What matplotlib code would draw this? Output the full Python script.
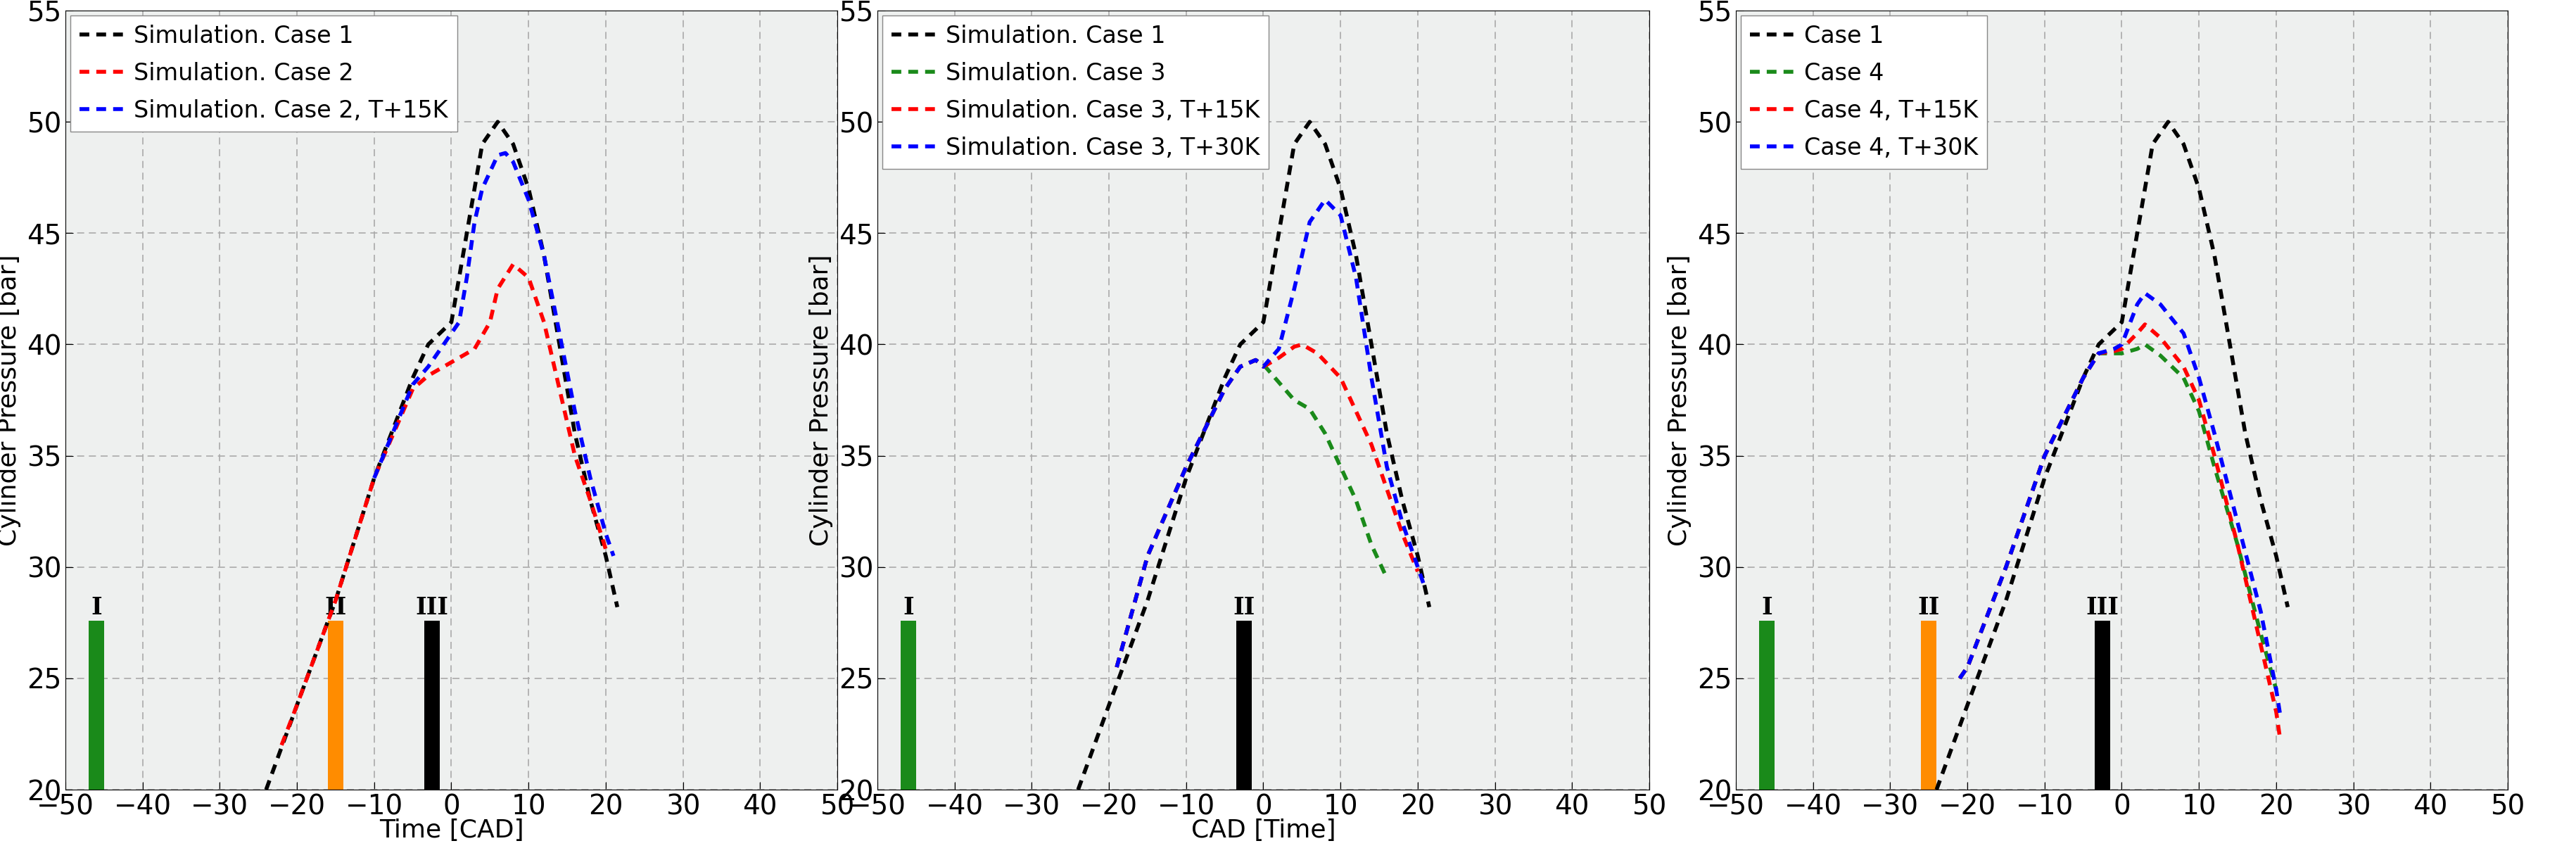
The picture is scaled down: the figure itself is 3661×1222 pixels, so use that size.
import matplotlib
matplotlib.use("Agg")
import matplotlib.pyplot as plt
import numpy as np

c1_x = [-24,-20,-15,-10,-5,-3,0,1,2,3,4,6,8,10,12,14,16,18,20,21.5]
c1_y = [20,23.8,28.5,34,38.5,40,41,43,45,47,49,50,49,47,44,40,36,33,30.5,28.2]

p1_c2_x = [-22,-20,-15,-10,-5,-3,0,3,5,6,8,10,12,14,16,18,20]
p1_c2_y = [22,23.8,28.5,34,38,38.6,39.2,39.8,41,42.5,43.6,43,41,38,35,33,30.8]
p1_c2b_x = [-10,-5,-3,0,1,2,3,4,6,7,8,10,12,14,16,18,20,21]
p1_c2b_y = [34,38.2,39,40.5,41,43,45.5,47,48.5,48.6,48.2,46.5,44,40.5,37,34,31.5,30.5]

p2_c3_x = [-19,-15,-10,-5,-3,-1,0,2,4,6,8,10,12,14,16]
p2_c3_y = [25.5,30.5,34.5,38,39,39.3,39.1,38.3,37.5,37.1,36,34.5,33,31,29.5]
p2_c3a_x = [-19,-15,-10,-5,-3,-1,0,2,4,5,7,10,12,14,16,18,20]
p2_c3a_y = [25.5,30.5,34.5,38,39,39.3,39,39.4,39.9,40,39.6,38.5,37,35.5,33.5,31.5,29.8]
p2_c3b_x = [-19,-15,-10,-5,-3,-1,0,2,4,6,8,10,12,14,16,18,20,21]
p2_c3b_y = [25.5,30.5,34.5,38,39,39.3,39,39.8,42.5,45.5,46.5,45.8,43,38.5,34.5,32,30,29]

p3_c4_x = [-21,-20,-15,-10,-5,-3,-1,0,2,3,5,8,10,12,15,18,20]
p3_c4_y = [25,25.5,30,35,38.5,39.6,39.6,39.6,39.8,40,39.5,38.5,37,34.5,31,27,24.5]
p3_c4a_x = [-21,-20,-15,-10,-5,-3,-1,0,2,3,5,8,10,12,15,18,20,20.5]
p3_c4a_y = [25,25.5,30,35,38.5,39.6,39.7,39.8,40.5,40.9,40.3,39,37.5,35,31,26.5,23.5,22.3]
p3_c4b_x = [-21,-20,-15,-10,-5,-3,-1,0,2,3,5,8,10,12,15,18,20,20.5]
p3_c4b_y = [25,25.5,30,35,38.5,39.6,39.8,40,41.8,42.3,41.8,40.5,38.5,36,32,28,24.5,23.4]

bar_height = 27.6
panels = [
    dict(xlabel="Time [CAD]",
         lines=[(c1_x,c1_y,'k',"Simulation. Case 1"),(p1_c2_x,p1_c2_y,'r',"Simulation. Case 2"),
                (p1_c2b_x,p1_c2b_y,'b',"Simulation. Case 2, T+15K")],
         bars=[(-46,'#1a8a1a','I'),(-15,'#ff8c00','II'),(-2.5,'k','III')]),
    dict(xlabel="CAD [Time]",
         lines=[(c1_x,c1_y,'k',"Simulation. Case 1"),(p2_c3_x,p2_c3_y,'#1a8a1a',"Simulation. Case 3"),
                (p2_c3a_x,p2_c3a_y,'r',"Simulation. Case 3, T+15K"),(p2_c3b_x,p2_c3b_y,'b',"Simulation. Case 3, T+30K")],
         bars=[(-46,'#1a8a1a','I'),(-2.5,'k','II')]),
    dict(xlabel="",
         lines=[(c1_x,c1_y,'k',"Case 1"),(p3_c4_x,p3_c4_y,'#1a8a1a',"Case 4"),
                (p3_c4a_x,p3_c4a_y,'r',"Case 4, T+15K"),(p3_c4b_x,p3_c4b_y,'b',"Case 4, T+30K")],
         bars=[(-46,'#1a8a1a','I'),(-25,'#ff8c00','II'),(-2.5,'k','III')]),
]

fig = plt.figure(figsize=(36.62,12.22), dpi=100)
lefts = [93/3662, 1247/3662, 2467/3662]
for left, p in zip(lefts, panels):
    ax = fig.add_axes([left, 100/1222, 1097/3662, 1107/1222])
    ax.set_facecolor('#eef0ef')
    for bx, bc, bl in p['bars']:
        ax.bar(bx, bar_height-20, bottom=20, width=2, color=bc, zorder=2)
        ax.text(bx, bar_height+0.05, bl, ha='center', va='bottom', fontsize=24,
                fontweight='bold', family='DejaVu Serif', zorder=3)
    for x, y, c, lab in p['lines']:
        ax.plot(x, y, color=c, ls=(0,(2.5,1.8)), lw=4, label=lab, zorder=4)
    ax.set_xlim(-50,50); ax.set_ylim(20,55)
    ax.set_xticks(range(-50,51,10)); ax.set_yticks(range(20,56,5))
    ax.grid(True, ls=(0,(6,4)), color='#aaaaaa', lw=1.2)
    ax.tick_params(labelsize=28, direction='in', length=8, pad=4)
    ax.set_ylabel("Cylinder Pressure [bar]", fontsize=26, labelpad=6)
    if p['xlabel']:
        ax.set_xlabel(p['xlabel'], fontsize=26, labelpad=-2)
    ax.legend(loc='upper left', fontsize=24, handlelength=2.0, handletextpad=0.3,
              fancybox=False, framealpha=1, edgecolor='#888888', borderaxespad=0.2,
              labelspacing=0.6)
fig.savefig("out.png", dpi=100)
